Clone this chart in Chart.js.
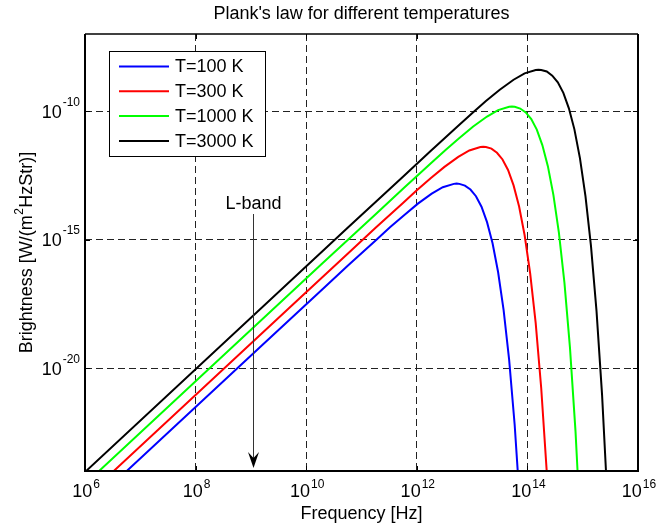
<!DOCTYPE html>
<html>
<head>
<meta charset="utf-8">
<title>Plank's law</title>
<script src="https://cdn.jsdelivr.net/npm/chart.js@4.4.0/dist/chart.umd.min.js"></script>
<style>
  html, body { margin: 0; padding: 0; background: #fff; }
</style>
</head>
<body>
<canvas id="planck" width="656" height="532"></canvas>
<script>
//------------------Data------------------
const temps = [100, 300, 1000, 3000];
const seriesColors = ['#0000ff', '#ff0000', '#00ff00', '#000000'];

// log10 of frequency [Hz] / brightness [W/(m^2 Hz sr)] along each curve
const logFreq100 = [6, 9.27, 10.27, 10.77, 11.27, 11.52, 11.77, 12.02, 12.27, 12.47, 12.67, 12.72, 12.77, 12.87, 12.97, 13.07, 13.17, 13.27, 13.37, 13.47, 13.57, 13.67, 13.77, 13.87];
const logBright100 = [-25.51, -18.97, -16.98, -15.98, -15.00, -14.51, -14.05, -13.60, -13.21, -12.96, -12.83, -12.82, -12.83, -12.90, -13.05, -13.31, -13.72, -14.32, -15.14, -16.26, -17.74, -19.68, -22.21, -25.46];

const logFreq300 = [6, 9.75, 10.75, 11.25, 11.75, 12.00, 12.25, 12.50, 12.75, 12.95, 13.15, 13.20, 13.25, 13.35, 13.45, 13.55, 13.65, 13.75, 13.85, 13.95, 14.05, 14.15, 14.25, 14.35, 14.45];
const logBright300 = [-25.04, -17.54, -15.55, -14.55, -13.57, -13.08, -12.61, -12.17, -11.78, -11.53, -11.40, -11.39, -11.40, -11.46, -11.62, -11.88, -12.29, -12.89, -13.71, -14.83, -16.31, -18.25, -20.78, -24.03, -28.21];

const logFreq1000 = [6, 10.27, 11.27, 11.77, 12.27, 12.52, 12.77, 13.02, 13.27, 13.47, 13.67, 13.72, 13.77, 13.87, 13.97, 14.07, 14.17, 14.27, 14.37, 14.47, 14.57, 14.67, 14.77, 14.87, 14.97];
const logBright1000 = [-24.51, -15.97, -13.98, -12.98, -12.00, -11.51, -11.05, -10.60, -10.21, -9.96, -9.83, -9.82, -9.83, -9.90, -10.05, -10.31, -10.72, -11.32, -12.14, -13.26, -14.74, -16.68, -19.21, -22.46, -26.64];

const logFreq3000 = [6, 10.75, 11.75, 12.25, 12.75, 13.00, 13.25, 13.50, 13.75, 13.95, 14.15, 14.20, 14.25, 14.35, 14.45, 14.55, 14.65, 14.75, 14.85, 14.95, 15.05, 15.15, 15.25, 15.35, 15.45];
const logBright3000 = [-24.04, -14.54, -12.55, -11.55, -10.57, -10.08, -9.61, -9.17, -8.78, -8.53, -8.40, -8.39, -8.40, -8.46, -8.62, -8.88, -9.29, -9.89, -10.71, -11.83, -13.31, -15.25, -17.78, -21.03, -25.21];

const logFreqs = [logFreq100, logFreq300, logFreq1000, logFreq3000];
const logBrights = [logBright100, logBright300, logBright1000, logBright3000];

// tick exponents (labels are drawn as 10^n)
const xTickExps = [6, 8, 10, 12, 14, 16];
const yTickExps = [-20, -15, -10];
const xRange = [1e6, 1e16];
const yRange = [1e-24, 1e-7];

// y label pieces: text, superscript, text
const yLabelParts = ['Brightness [W/(m', '2', 'HzStr)]'];

// L-band marker
const lBandFreq = 1.1e9;
const lBandText = 'L-band';

const FONT = '"Liberation Sans", Arial, Helvetica, sans-serif';
Chart.defaults.font.family = FONT;
Chart.defaults.color = '#000';

//------------------Drawing helpers------------------
const drawPower = (ctx, exp, x, y, align, supRise) => {
  ctx.font = `18px ${FONT}`;
  const wBase = ctx.measureText('10').width;
  ctx.font = `12px ${FONT}`;
  const sup = String(exp);
  const wSup = ctx.measureText(sup).width;
  const total = wBase + 1 + wSup;
  const left = align === 'center' ? x - total / 2 : x - total;
  ctx.textAlign = 'left';
  ctx.textBaseline = 'alphabetic';
  ctx.font = `18px ${FONT}`;
  ctx.fillText('10', left, y);
  ctx.font = `12px ${FONT}`;
  ctx.fillText(sup, left + wBase + 1, y - supRise);
};

// rotated y label with a raised "2"
const drawYLabel = (ctx, cx, cy) => {
  const [pre, sup, post] = yLabelParts;
  ctx.font = `18px ${FONT}`;
  const w1 = ctx.measureText(pre).width;
  const w3 = ctx.measureText(post).width;
  ctx.font = `12px ${FONT}`;
  const w2 = ctx.measureText(sup).width + 1;
  const total = w1 + w2 + w3;
  ctx.save();
  ctx.translate(cx, cy);
  ctx.rotate(-Math.PI / 2);
  ctx.textAlign = 'left';
  ctx.textBaseline = 'alphabetic';
  let x = -total / 2;
  const base = 6.5;
  ctx.font = `18px ${FONT}`;
  ctx.fillText(pre, x, base);
  x += w1;
  ctx.font = `12px ${FONT}`;
  ctx.fillText(sup, x + 0.5, base - 9);
  x += w2;
  ctx.font = `18px ${FONT}`;
  ctx.fillText(post, x, base);
  ctx.restore();
};

const decor = {
  id: 'planckDecor',
  afterDraw(chart) {
    const { ctx, chartArea: a, scales } = chart;
    const xs = scales.x;
    const ys = scales.y;
    ctx.save();

    // axes box
    ctx.strokeStyle = '#000';
    ctx.lineWidth = 2;
    ctx.beginPath();
    ctx.moveTo(a.left, a.top);
    ctx.lineTo(a.left, a.bottom);
    ctx.lineTo(a.right, a.bottom);
    ctx.lineTo(a.right, a.top);
    ctx.stroke();
    ctx.lineWidth = 1.5;
    ctx.beginPath();
    ctx.moveTo(a.left, a.top);
    ctx.lineTo(a.right, a.top);
    ctx.stroke();

    // inward tick marks
    ctx.lineWidth = 1;
    ctx.beginPath();
    xTickExps.forEach((e) => {
      const px = Math.round(xs.getPixelForValue(10 ** e)) + 0.5;
      ctx.moveTo(px, a.bottom); ctx.lineTo(px, a.bottom - 5);
      ctx.moveTo(px, a.top); ctx.lineTo(px, a.top + 5);
    });
    yTickExps.forEach((e) => {
      const py = Math.round(ys.getPixelForValue(10 ** e)) + 0.5;
      ctx.moveTo(a.left, py); ctx.lineTo(a.left + 5, py);
      ctx.moveTo(a.right, py); ctx.lineTo(a.right - 5, py);
    });
    ctx.stroke();

    // tick labels
    ctx.fillStyle = '#000';
    xTickExps.forEach((e) => {
      drawPower(ctx, e, xs.getPixelForValue(10 ** e) + 1, a.bottom + 26, 'center', 9);
    });
    yTickExps.forEach((e) => {
      drawPower(ctx, e, a.left - 5, ys.getPixelForValue(10 ** e) + 6.5, 'right', 12);
    });

    // y axis label
    drawYLabel(ctx, 25, (a.top + a.bottom) / 2);

    // L-band arrow
    const lx = Math.round(xs.getPixelForValue(lBandFreq)) + 0.5;
    ctx.font = `18px ${FONT}`;
    ctx.textAlign = 'center';
    ctx.textBaseline = 'alphabetic';
    ctx.fillText(lBandText, lx, a.top + 175);
    ctx.strokeStyle = '#333';
    ctx.lineWidth = 1;
    ctx.beginPath();
    ctx.moveTo(lx, a.top + 180);
    ctx.lineTo(lx, a.bottom - 10);
    ctx.stroke();
    const tip = a.bottom - 3;
    ctx.fillStyle = '#000';
    ctx.beginPath();
    ctx.moveTo(lx, tip);
    ctx.lineTo(lx - 5.5, tip - 16);
    ctx.lineTo(lx, tip - 10);
    ctx.lineTo(lx + 5.5, tip - 16);
    ctx.closePath();
    ctx.fill();

    // legend
    const lg = { left: a.left + 24, top: a.top + 17, width: 156, height: 105 };
    ctx.fillStyle = '#fff';
    ctx.fillRect(lg.left, lg.top, lg.width, lg.height);
    ctx.strokeStyle = '#000';
    ctx.lineWidth = 1;
    ctx.strokeRect(Math.round(lg.left) + 0.5, Math.round(lg.top) + 0.5, lg.width, lg.height);
    ctx.font = `18px ${FONT}`;
    ctx.textAlign = 'left';
    ctx.textBaseline = 'middle';
    chart.data.datasets.forEach((ds, i) => {
      const rowY = lg.top + 15.5 + i * 24.8;
      ctx.strokeStyle = ds.borderColor;
      ctx.lineWidth = 2;
      ctx.beginPath();
      ctx.moveTo(lg.left + 10, rowY);
      ctx.lineTo(lg.left + 60, rowY);
      ctx.stroke();
      ctx.fillStyle = '#000';
      ctx.fillText(ds.label, lg.left + 66, rowY + 1);
    });

    ctx.restore();
  },
};

//------------------Chart------------------
const datasets = temps.map((t, i) => ({
  label: `T=${t} K`,
  data: logFreqs[i].map((f, j) => ({ x: 10 ** f, y: 10 ** logBrights[i][j] })),
  borderColor: seriesColors[i],
  borderWidth: 2,
  pointRadius: 0,
  fill: false,
  tension: 0,
}));

const gridColor = (count) => (ctx) =>
  (ctx.index === 0 || ctx.index === count - 1) ? 'rgba(0,0,0,0)' : '#222';

new Chart(document.getElementById('planck'), {
  type: 'line',
  data: { datasets },
  options: {
    responsive: false,
    animation: false,
    devicePixelRatio: 1,
    layout: { padding: { top: 0, left: 0, right: 18, bottom: 0 } },
    plugins: {
      legend: { display: false },
      tooltip: { enabled: false },
      title: {
        display: true,
        fullSize: false,
        text: "Plank's law for different temperatures",
        color: '#000',
        font: { size: 18, weight: 'normal' },
        padding: { top: 3, bottom: 9.4 },
      },
    },
    scales: {
      x: {
        type: 'logarithmic',
        min: xRange[0],
        max: xRange[1],
        afterBuildTicks: (s) => { s.ticks = xTickExps.map((e) => ({ value: 10 ** e })); },
        afterFit: (s) => { s.height = 61; },
        ticks: { display: false },
        grid: { color: gridColor(xTickExps.length), lineWidth: 1, drawTicks: false },
        border: { display: false, dash: [7, 4] },
        title: {
          display: true,
          text: 'Frequency [Hz]',
          color: '#000',
          font: { size: 18 },
          padding: { top: 0, bottom: 7 },
        },
      },
      y: {
        type: 'logarithmic',
        min: yRange[0],
        max: yRange[1],
        afterBuildTicks: (s) => { s.ticks = yTickExps.map((e) => ({ value: 10 ** e })); },
        afterFit: (s) => { s.width = 85; },
        ticks: { display: false },
        grid: { color: '#222', lineWidth: 1, drawTicks: false },
        border: { display: false, dash: [7, 4] },
        title: { display: false },
      },
    },
  },
  plugins: [decor],
});
</script>
</body>
</html>
